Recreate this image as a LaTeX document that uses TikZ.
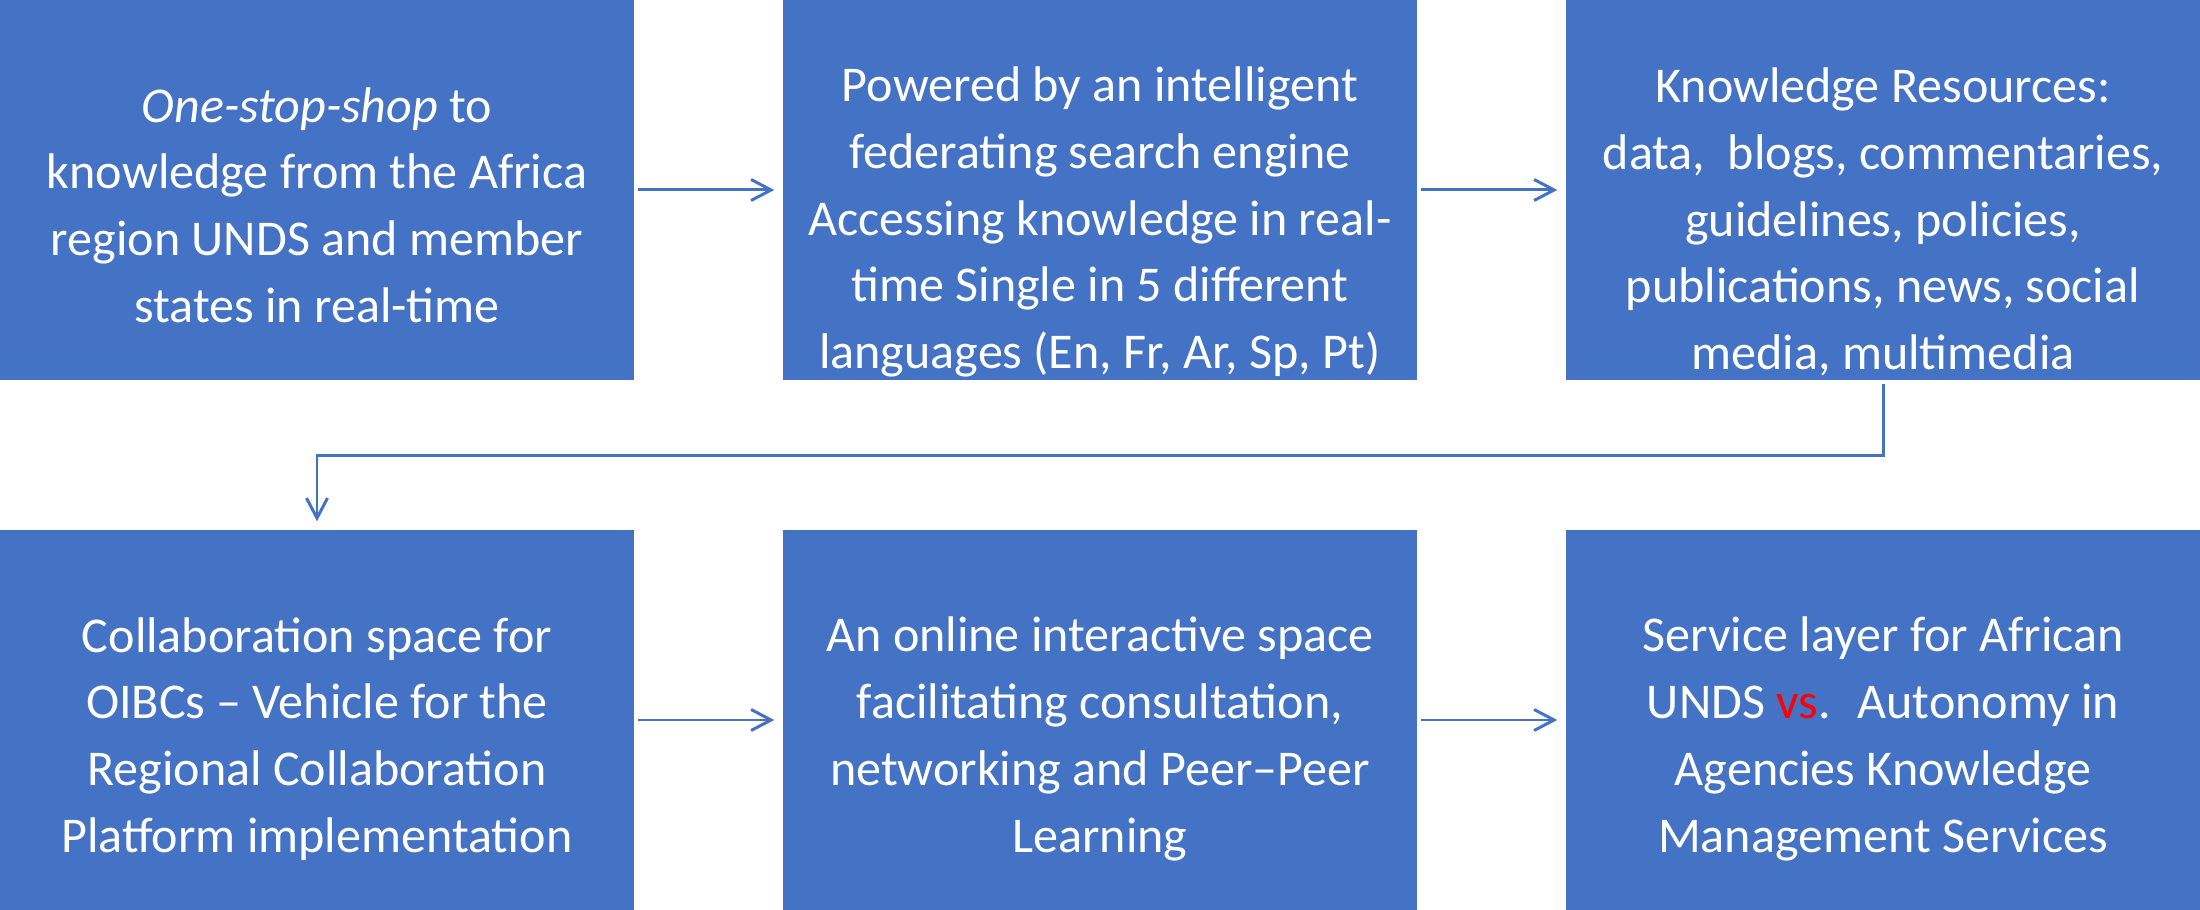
\documentclass[tikz,border=0pt]{standalone}
\usepackage{fontspec}
\setmainfont{Carlito}
\usetikzlibrary{arrows.meta}
\definecolor{boxblue}{HTML}{4472C4}
\tikzset{
  blockbox/.style={fill=boxblue, minimum width=6.34cm, minimum height=3.8cm, inner sep=0pt},
  blocktext/.style={text=white, align=center, font=\fontsize{14.25}{19}\selectfont, yshift=#1},
  blocktext/.default=-0.15cm,
  flow/.style={draw=boxblue, line width=0.85pt, -{Straight Barb[length=2mm, width=2.1mm]},
    shorten <=0.03cm, shorten >=0.08cm}
}
\begin{document}
\begin{tikzpicture}
  \useasboundingbox (0,0) rectangle (22,-9.1);
  % boxes
  \node[blockbox] (b1) at (3.17,-1.9) {};
  \node[blockbox] (b2) at (11,-1.9) {};
  \node[blockbox] (b3) at (18.83,-1.9) {};
  \node[blockbox] (b4) at (3.17,-7.2) {};
  \node[blockbox] (b5) at (11,-7.2) {};
  \node[blockbox] (b6) at (18.83,-7.2) {};
  % texts
  \node[blocktext] (t1) at (b1) {\textit{One-stop-shop} to\\knowledge from the Africa\\region UNDS and member\\states in real-time};
  \node[blocktext=-0.32cm] (t2) at (b2) {Powered by an intelligent\\federating search engine\\Accessing knowledge in real-\\time Single in 5 different\\languages (En, Fr, Ar, Sp, Pt)};
  \node[blocktext=-0.32cm] (t3) at (b3) {Knowledge Resources:\\data,~ blogs, commentaries,\\guidelines, policies,\\publications, news, social\\media, multimedia};
  \node[blocktext=-0.19cm] (t4) at (b4) {Collaboration space for\\OIBCs -- Vehicle for the\\Regional Collaboration\\Platform implementation};
  \node[blocktext=-0.19cm] (t5) at (b5) {An online interactive space\\facilitating consultation,\\networking and Peer--Peer\\Learning};
  \node[blocktext=-0.19cm] (t6) at (b6) {Service layer for African\\UNDS \textcolor{red}{vs}.~ Autonomy in\\Agencies Knowledge\\Management Services};
  % connectors
  \draw[flow] (b1) -- (b2);
  \draw[flow] (b2) -- (b3);
  \draw[flow] (b3.south) -- ++(0,-0.745) -| (b4.north);
  \draw[flow] (b4) -- (b5);
  \draw[flow] (b5) -- (b6);
\end{tikzpicture}
\end{document}
